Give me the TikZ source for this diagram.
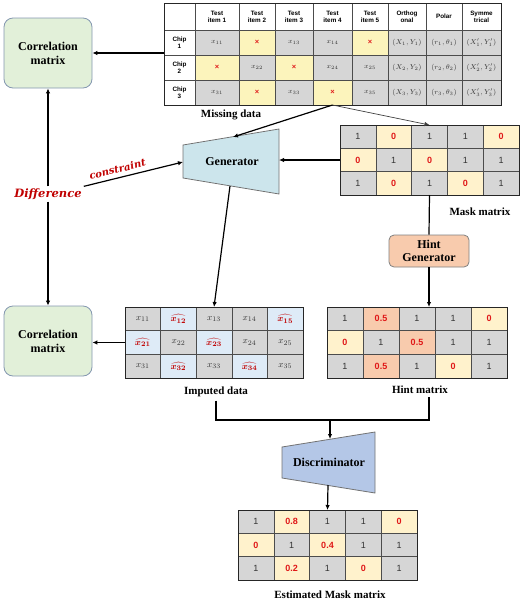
\documentclass[tikz,border=0pt]{standalone}
\usepackage{amsmath,amssymb}
\usepackage{fontspec}
\setmainfont{Liberation Serif}
\newfontfamily\arialf{Liberation Sans}
\newfontfamily\dvserif{DejaVu Serif}
\usetikzlibrary{arrows.meta}
\definecolor{cgray}{HTML}{D6D6D6}
\definecolor{cyel}{HTML}{FCF4BC}
\definecolor{ccream}{HTML}{FFF2CC}
\definecolor{csalm}{HTML}{F8CBAD}
\definecolor{cblue}{HTML}{DEEBF7}
\definecolor{cred}{HTML}{E01818}
\definecolor{cdark}{HTML}{C00000}
\definecolor{cgreen}{HTML}{E2F0D9}
\definecolor{cbord}{HTML}{8497B0}
\definecolor{cgen}{HTML}{CCE5EC}
\definecolor{cdisc}{HTML}{B4C7E7}
\newcommand\mcell[7]{\node[cellbase,#6,minimum width={(#3-#2)*1pt},minimum height={(#5-#4)*1pt}] (#1) at ({(#2+#3)/2},{(#4+#5)/2}) {#7};}
\newcommand\trow[4]{\foreach \xa/\xb/\cellsty/\cellval [count=\ci] in {#4} {\mcell{md-#1-\ci}{\xa}{\xb}{#2}{#3}{cell \cellsty}{\cellval}}}
\newcommand\mgrid[6]{\foreach \cellsty/\cellval [count=\ii from 0] in {#6} {%
  \pgfmathtruncatemacro\ri{div(\ii,5)}\pgfmathtruncatemacro\ci{mod(\ii,5)}%
  \node[cellbase,cell \cellsty,minimum width=#4pt,minimum height=#5pt] (#1-\ri-\ci) at ({#2+(\ci+0.5)*#4},{#3+(\ri+0.5)*#5}) {\cellval};}}
\begin{document}
\begin{tikzpicture}[x=1pt,y=-1pt,
  arr/.style={draw=black,line width=1.2pt,-{Latex[length=5pt,width=4.5pt]}},
  thinarr/.style={draw=black!75,line width=0.7pt,-{Latex[length=5pt,width=4.5pt]}},
  ln/.style={draw=black,line width=1.2pt},
  cellbase/.style={draw=black!70,line width=0.6pt,inner sep=0pt,outer sep=0pt,align=center,text=black!80},
  cell h/.style={fill=white,text=black,font=\fontsize{6.3}{6.8}\arialf\bfseries},
  cell m/.style={fill=cgray,font=\fontsize{7}{8}\selectfont},
  cell x/.style={fill=cyel,text=cred,font=\fontsize{7.5}{8}\arialf\bfseries},
  cell g/.style={fill=cgray,font=\fontsize{9}{10}\arialf},
  cell y/.style={fill=ccream,text=cred,font=\fontsize{9}{10}\arialf\bfseries},
  cell s/.style={fill=csalm,text=cred,font=\fontsize{9}{10}\arialf\bfseries},
  cell i/.style={fill=cgray,font=\fontsize{9.5}{10}\selectfont},
  cell hh/.style={fill=cblue,text=cdark,font=\fontsize{9.5}{10}\selectfont\boldmath},
  frame/.style={draw=black!85,line width=1pt,inner sep=0pt,outer sep=0pt},
  lbl/.style={font=\fontsize{11}{12}\selectfont\bfseries},
  corr/.style={rounded corners=9pt,fill=cgreen,draw=cbord,line width=0.8pt,minimum width=88pt,minimum height=70pt,align=center,font=\fontsize{12}{14}\selectfont\bfseries},
  ttl/.style={font=\fontsize{12}{14}\selectfont\bfseries}
]
\useasboundingbox (0,0) rectangle (526,606);

% ---- Missing data table
\trow{0}{3}{30}{164/195/h/{}, 195/239/h/{Test\\item 1}, 239/275/h/{Test\\item 2}, 275/313/h/{Test\\item 3}, 313/352/h/{Test\\item 4}, 352/388/h/{Test\\item 5}, 388/426/h/{Orthog\\onal}, 426/462/h/{Polar}, 462/501/h/{Symme\\trical}}
\trow{1}{30}{55}{164/195/h/{Chip\\1}, 195/239/m/{$x_{11}$}, 239/275/x/{×}, 275/313/m/{$x_{13}$}, 313/352/m/{$x_{14}$}, 352/388/x/{×}, 388/426/m/{$(X_1,Y_1)$}, 426/462/m/{$(r_1,\theta_1)$}, 462/501/m/{$(X_1',Y_1')$}}
\trow{2}{55}{80}{164/195/h/{Chip\\2}, 195/239/x/{×}, 239/275/m/{$x_{22}$}, 275/313/x/{×}, 313/352/m/{$x_{24}$}, 352/388/m/{$x_{25}$}, 388/426/m/{$(X_2,Y_2)$}, 426/462/m/{$(r_2,\theta_2)$}, 462/501/m/{$(X_2',Y_2')$}}
\trow{3}{80}{105}{164/195/h/{Chip\\3}, 195/239/m/{$x_{31}$}, 239/275/x/{×}, 275/313/m/{$x_{33}$}, 313/352/x/{×}, 352/388/m/{$x_{35}$}, 388/426/m/{$(X_3,Y_3)$}, 426/462/m/{$(r_3,\theta_3)$}, 462/501/m/{$(X_3',Y_3')$}}
\node[frame,minimum width=337pt,minimum height=102pt] (miss) at (332.5,54) {};
\node[lbl] (missl) at (231,115) {Missing data};

% ---- Correlation matrices
\node[corr] (c1) at (48,53) {Correlation\\matrix};
\node[corr] (c2) at (48,341) {Correlation\\matrix};

% ---- Generator
\draw[fill=cgen,draw=black!55,line width=0.8pt] (183,145) -- (279,129) -- (279,194) -- (183,178) -- cycle;
\node[ttl] (gen) at (232,162) {Generator};
\coordinate (genL) at (183,162);
\coordinate (genR) at (279,162);
\coordinate (genT) at (233,137);
\coordinate (genB) at (230,186);

% ---- Mask matrix
\mgrid{mk}{340}{125}{35.8}{23.33}{g/1,y/0,g/1,g/1,y/0, y/0,g/1,y/0,g/1,g/1, g/1,y/0,g/1,y/0,g/1}
\node[frame,minimum width=179pt,minimum height=70pt] (mask) at (429.5,160) {};
\node[lbl] (maskl) at (480,212) {Mask matrix};

% ---- Hint generator
\node[rounded corners=5pt,fill=csalm,draw=black!50,line width=0.8pt,minimum width=80pt,minimum height=32pt,align=center,font=\fontsize{12}{13}\selectfont\bfseries] (hg) at (429,251) {Hint\\Generator};

% ---- Hint matrix
\mgrid{hm}{327}{307}{36}{23.67}{g/1,s/0.5,g/1,g/1,y/0, y/0,g/1,s/0.5,g/1,g/1, g/1,s/0.5,g/1,y/0,g/1}
\node[frame,minimum width=180pt,minimum height=71pt] (hint) at (417,342.5) {};
\node[lbl] (hintl) at (420,390) {Hint matrix};

% ---- Imputed data
\mgrid{im}{125}{307}{35.6}{23.67}{i/{$x_{11}$}, hh/{$\widehat{x_{12}}$}, i/{$x_{13}$}, i/{$x_{14}$}, hh/{$\widehat{x_{15}}$}, hh/{$\widehat{x_{21}}$}, i/{$x_{22}$}, hh/{$\widehat{x_{23}}$}, i/{$x_{24}$}, i/{$x_{25}$}, i/{$x_{31}$}, hh/{$\widehat{x_{32}}$}, i/{$x_{33}$}, hh/{$\widehat{x_{34}}$}, i/{$x_{35}$}}
\node[frame,minimum width=178pt,minimum height=71pt] (imp) at (214,342.5) {};
\node[lbl] (impl) at (216,392) {Imputed data};

% ---- Discriminator
\draw[fill=cdisc,draw=black!55,line width=0.8pt] (282,447) -- (375,432) -- (375,493) -- (282,478) -- cycle;
\node[ttl] (disc) at (329,462) {Discriminator};
\coordinate (discT) at (330,439);
\coordinate (discB) at (328,485);

% ---- Estimated mask matrix
\mgrid{es}{238}{510}{35.8}{23.33}{g/1,y/0.8,g/1,g/1,y/0, y/0,g/1,y/0.4,g/1,g/1, g/1,y/0.2,g/1,y/0,g/1}
\node[frame,minimum width=179pt,minimum height=70pt] (est) at (327.5,545) {};
\node[lbl] (estl) at (330,595) {Estimated Mask matrix};

% ---- Difference text
\node[font=\fontsize{11.5}{13}\dvserif\bfseries\itshape,text=cdark,inner sep=2pt] (diff) at (48,194) {Difference};

% ---- Connectors
\draw[arr] (c1.east -| miss.west) -- (c1.east);
\draw[arr] (diff.north) -- (c1.south);
\draw[arr] (diff.south) -- (c2.north);
\draw[arr] (diff.north east) -- node[pos=0.36,above=1pt,sloped,font=\fontsize{10}{12}\dvserif\bfseries\itshape,text=cdark] {constraint} (genL);
\draw[arr] (md-3-5.south) -- (genT);
\draw[thinarr] (md-3-5.south) -- (mask.north);
\draw[arr] (mask.west) -- (mask.west -| genR);
\draw[ln] (mask.south) -- (hg.north);
\draw[arr] (hg.south) -- (hg.south |- hint.north);
\draw[arr] (genB) -- (imp.north);
\draw[arr] (imp.west) -- (imp.west -| c2.east);
\coordinate (j) at (330,420);
\draw[ln] (impl.south) |- (j) -| (hintl.south -| hg.south);
\draw[arr] (j) -- (discT);
\draw[arr] (discB) -- (est.north);
\end{tikzpicture}
\end{document}
